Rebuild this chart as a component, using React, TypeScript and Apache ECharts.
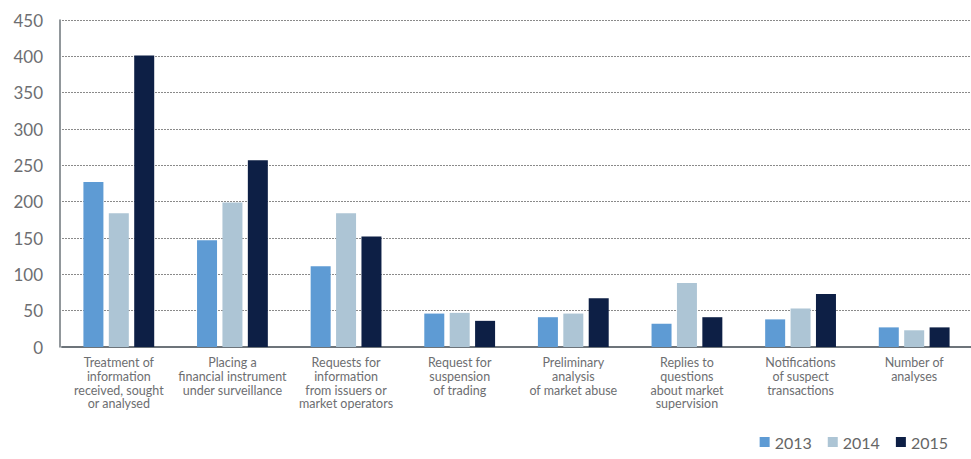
import React, { useEffect, useRef } from "react";
import * as echarts from "echarts";

const categories = [
  "Treatment of\ninformation\nreceived, sought\nor analysed",
  "Placing a\nfinancial instrument\nunder surveillance",
  "Requests for\ninformation\nfrom issuers or\nmarket operators",
  "Request for\nsuspension\nof trading",
  "Preliminary\nanalysis\nof market abuse",
  "Replies to\nquestions\nabout market\nsupervision",
  "Notifications\nof suspect\ntransactions",
  "Number of\nanalyses",
];
const values2013 = [227, 147, 111, 46, 41, 32, 38, 27];
const values2014 = [184, 199, 184, 47, 46, 88, 53, 23];
const values2015 = [401, 257, 152, 36, 67, 41, 73, 27];
const seriesNames = ["2013", "2014", "2015"];
const colors = ["#5e9bd4", "#adc5d5", "#0d1f45"];

export default function App() {
  const ref = useRef<HTMLDivElement>(null);
  useEffect(() => {
    if (!ref.current) return;
    const chart = echarts.init(ref.current, undefined, { renderer: "svg" });
    const font = "Lato, 'Open Sans', sans-serif";
    const data = [values2013, values2014, values2015];
    chart.setOption({
      animation: false,
      textStyle: { fontFamily: font },
      grid: { left: 62, top: 20, bottom: 112, width: 913, containLabel: false },
      legend: {
        data: seriesNames,
        right: 18,
        bottom: 4,
        icon: "rect",
        itemWidth: 10,
        itemHeight: 10,
        itemGap: 16,
        textStyle: { color: "#666", fontSize: 16, fontFamily: font },
      },
      xAxis: {
        type: "category",
        data: categories,
        axisLine: { lineStyle: { color: "#6d747a", width: 2 } },
        axisTick: { show: false },
        axisLabel: {
          color: "#6d6e71",
          fontSize: 12.5,
          lineHeight: 13.6,
          margin: 9,
          interval: 0,
          fontFamily: font,
        },
      },
      yAxis: {
        type: "value",
        min: 0,
        max: 450,
        interval: 50,
        offset: 2,
        axisLine: { show: true, lineStyle: { color: "#6d747a", width: 1.5 } },
        axisTick: { show: false },
        axisLabel: { color: "#6d6e71", fontSize: 17, margin: 17, fontFamily: font },
        splitLine: { lineStyle: { color: "#8a8a8a", type: [2, 1], width: 1 } },
      },
      series: seriesNames.map((name, i) => ({
        name,
        type: "bar",
        data: data[i],
        barWidth: 20,
        barGap: "27%",
        itemStyle: { color: colors[i] },
      })),
    });
    return () => chart.dispose();
  }, []);
  return <div ref={ref} style={{ width: 971, height: 459, position: "absolute", left: 0, top: 0 }} />;
}
